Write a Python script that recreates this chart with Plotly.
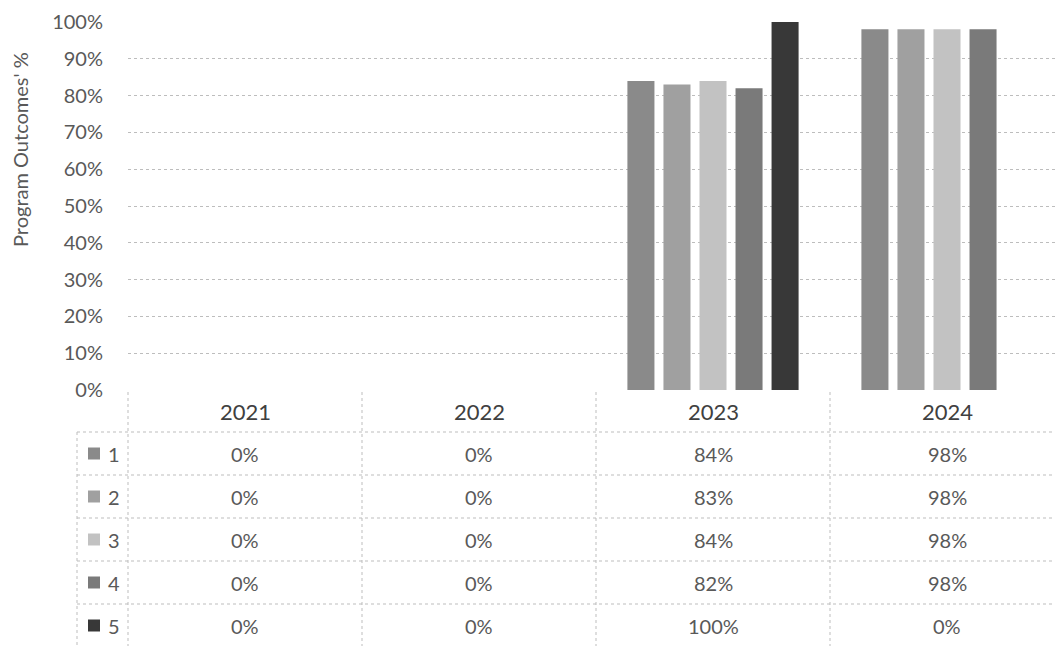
import plotly.graph_objects as go

# ---- data ----
years = ["2021", "2022", "2023", "2024"]
series_names = ["1", "2", "3", "4", "5"]
s1 = [0, 0, 84, 98]
s2 = [0, 0, 83, 98]
s3 = [0, 0, 84, 98]
s4 = [0, 0, 82, 98]
s5 = [0, 0, 100, 0]
y_ticks = [0, 10, 20, 30, 40, 50, 60, 70, 80, 90, 100]
y_title = "Program Outcomes' %"

series_values = [s1, s2, s3, s4, s5]
colors = ["#8a8a8a", "#a0a0a0", "#c2c2c2", "#7a7a7a", "#383838"]

# ---- geometry (pixels) ----
W, H = 1055, 646
L = 128          # left edge of plot area
T = 22           # top (100%)
B = 390          # bottom (0%)
PH = B - T
PW = W - L
FONT = "Lato"
TXT = "#595959"
GRID = "#bdbdbd"


def py(Y):
    return (B - Y) / PH


def px(X):
    return (X - L) / PW


fig = go.Figure()
for name, vals, c in zip(series_names, series_values, colors):
    fig.add_bar(x=years, y=vals, name=name, marker=dict(color=c, line=dict(width=0)))

fig.update_layout(
    width=W, height=H,
    margin=dict(l=L, r=0, t=T, b=H - B, pad=0),
    barmode="group", bargap=0.23, bargroupgap=0.25,
    plot_bgcolor="white", paper_bgcolor="white",
    showlegend=False,
    font=dict(family=FONT, color=TXT),
)
fig.update_xaxes(type="category", range=[-0.5, -0.5 + PW / 234.0], showticklabels=False,
                 showgrid=False, zeroline=False, showline=False)
fig.update_yaxes(range=[0, 100], tickvals=y_ticks,
                 ticktext=[f"{v}%" for v in y_ticks],
                 showgrid=True, gridcolor=GRID, griddash="dot", gridwidth=1,
                 zeroline=False, showline=False, ticks="",
                 ticklabelstandoff=24,
                 tickfont=dict(family=FONT, size=20, color=TXT))

shapes = []
annotations = []

# y title
annotations.append(dict(text=y_title, xref="paper", yref="paper",
                        x=px(20), y=py(150), textangle=-90, showarrow=False,
                        xanchor="center", yanchor="middle",
                        font=dict(family=FONT, size=20, color=TXT)))

# table geometry
header_top, header_bot = 392, 432
row_edges = [432, 475, 518, 561, 604, 647]
legend_left = 77
line = dict(color=GRID, width=1, dash="dot")

# horizontal lines
for y in row_edges[:-1]:
    shapes.append(dict(type="line", xref="paper", yref="paper",
                       x0=px(legend_left), x1=1, y0=py(y), y1=py(y), line=line))
# vertical lines: plot-left, between categories, legend-left
shapes.append(dict(type="line", xref="paper", yref="paper",
                   x0=px(L), x1=px(L), y0=py(header_top), y1=py(row_edges[-1]), line=line))
shapes.append(dict(type="line", xref="paper", yref="paper",
                   x0=px(legend_left), x1=px(legend_left), y0=py(row_edges[0]),
                   y1=py(row_edges[-1]), line=line))
for i in range(1, len(years)):
    shapes.append(dict(type="line", xref="x", yref="paper",
                       x0=i - 0.5, x1=i - 0.5, y0=py(header_top), y1=py(row_edges[-1]),
                       line=line))

# header labels
for i, yr in enumerate(years):
    annotations.append(dict(text=yr, xref="x", yref="paper", x=i,
                            y=py(411), showarrow=False,
                            xanchor="center", yanchor="middle",
                            font=dict(family=FONT, size=22, color="#404040")))

# rows
for r, (name, vals, c) in enumerate(zip(series_names, series_values, colors)):
    yc = (row_edges[r] + row_edges[r + 1]) / 2
    shapes.append(dict(type="rect", xref="paper", yref="paper",
                       x0=px(88), x1=px(100), y0=py(yc - 6), y1=py(yc + 6),
                       fillcolor=c, line=dict(width=0)))
    annotations.append(dict(text=name, xref="paper", yref="paper", x=px(106),
                            y=py(yc), xanchor="left", yanchor="middle", showarrow=False,
                            font=dict(family=FONT, size=20, color=TXT)))
    for i, v in enumerate(vals):
        annotations.append(dict(text=f"{v}%", xref="x", yref="paper", x=i,
                                y=py(yc), showarrow=False,
                                xanchor="center", yanchor="middle",
                                font=dict(family=FONT, size=20, color=TXT)))

fig.update_layout(shapes=shapes, annotations=annotations)
fig.write_html("out.html")
